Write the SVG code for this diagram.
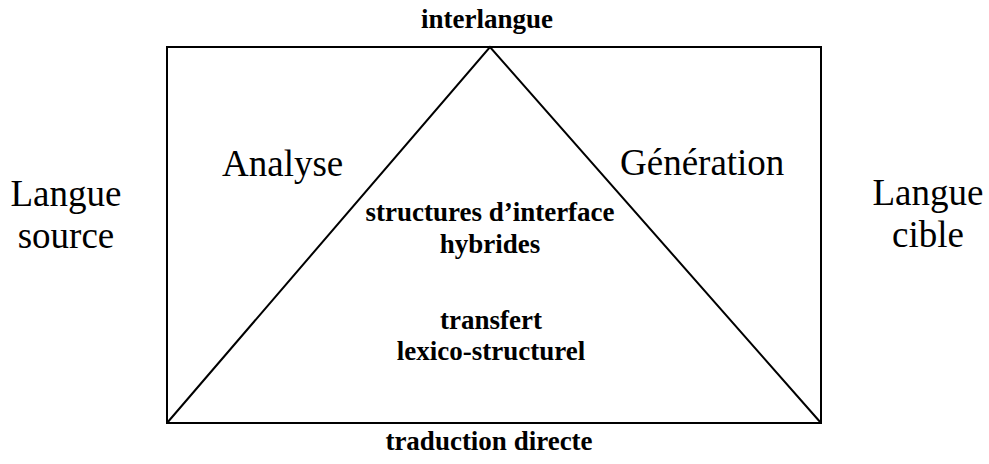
<svg xmlns="http://www.w3.org/2000/svg" width="989" height="464" viewBox="0 0 989 464">
<style>
text{font-family:'Liberation Serif','DejaVu Serif',serif;fill:#000}
.r{font-size:37px}
.b{font-size:27px;font-weight:bold;text-anchor:middle}
.m{text-anchor:middle}
.ln{fill:none;stroke:#000;stroke-width:2}
</style>
<rect width="989" height="464" fill="#fff"/>
<g id="frame">
<rect class="ln" x="167" y="47" width="654" height="376"/>
</g>
<g id="connectors">
<polyline class="ln" points="167,423 490,47 821,423" stroke-width="1.6"/>
</g>
<g id="interlangue"><text class="b" x="487" y="28">interlangue</text></g>
<g id="traduction"><text class="b" x="489" y="450">traduction directe</text></g>
<g id="analyse"><text class="r" x="222" y="176">Analyse</text></g>
<g id="generation"><text class="r" x="620" y="175">Génération</text></g>
<g id="source"><text class="r m" x="66" y="206">Langue</text><text class="r m" x="66" y="248">source</text></g>
<g id="cible"><text class="r m" x="928" y="205">Langue</text><text class="r m" x="928" y="247">cible</text></g>
<g id="hybrides"><text class="b" x="490" y="221">structures d’interface</text><text class="b" x="490" y="253">hybrides</text></g>
<g id="transfert"><text class="b" x="491" y="329">transfert</text><text class="b" x="491" y="360">lexico-structurel</text></g>
</svg>
